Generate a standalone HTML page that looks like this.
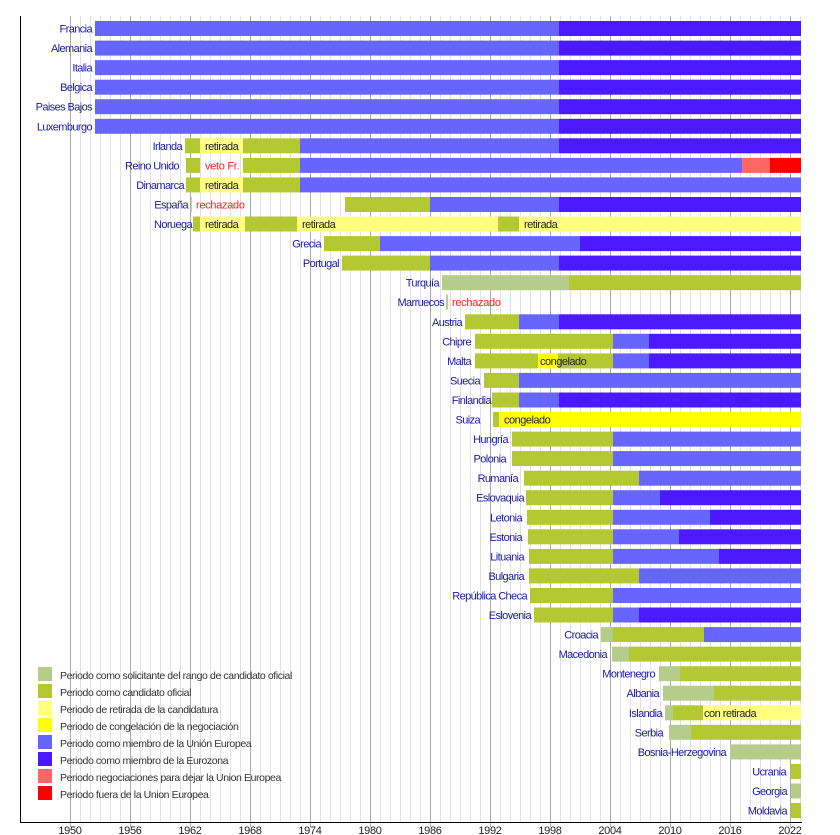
<!DOCTYPE html>
<html><head><meta charset="utf-8"><style>
body{margin:0;background:#fff}
svg{display:block;font-family:"Liberation Sans",sans-serif}
.l{font-size:11px;fill:#1a1aa0;text-anchor:end;letter-spacing:-0.6px}
.t{font-size:11px;fill:#222;letter-spacing:-0.5px}
.r{font-size:11px;fill:#ff2020;letter-spacing:-0.3px}
.g{fill:#b4c832}.lg{fill:#b6cc8a}.y{fill:#ffff80}.yy{fill:#ffff00}.b{fill:#6666ff}.d{fill:#4b19ff}.s{fill:#ff6666}.rr{fill:#ff0000}
.lt{font-size:10.5px;fill:#333;letter-spacing:-0.4px}
.ax{font-size:11px;fill:#222;text-anchor:middle;letter-spacing:-0.3px}
</style></head><body>
<svg width="840" height="835" viewBox="0 0 840 835" xmlns="http://www.w3.org/2000/svg">
<g stroke="#e2e2e2" stroke-width="1">
<line x1="80.5" y1="16" x2="80.5" y2="822"/><line x1="90.5" y1="16" x2="90.5" y2="822"/><line x1="100.5" y1="16" x2="100.5" y2="822"/><line x1="110.5" y1="16" x2="110.5" y2="822"/><line x1="120.5" y1="16" x2="120.5" y2="822"/><line x1="140.5" y1="16" x2="140.5" y2="822"/><line x1="150.5" y1="16" x2="150.5" y2="822"/><line x1="160.5" y1="16" x2="160.5" y2="822"/><line x1="170.5" y1="16" x2="170.5" y2="822"/><line x1="180.5" y1="16" x2="180.5" y2="822"/><line x1="200.5" y1="16" x2="200.5" y2="822"/><line x1="210.5" y1="16" x2="210.5" y2="822"/><line x1="220.5" y1="16" x2="220.5" y2="822"/><line x1="230.5" y1="16" x2="230.5" y2="822"/><line x1="240.5" y1="16" x2="240.5" y2="822"/><line x1="260.5" y1="16" x2="260.5" y2="822"/><line x1="270.5" y1="16" x2="270.5" y2="822"/><line x1="280.5" y1="16" x2="280.5" y2="822"/><line x1="290.5" y1="16" x2="290.5" y2="822"/><line x1="300.5" y1="16" x2="300.5" y2="822"/><line x1="320.5" y1="16" x2="320.5" y2="822"/><line x1="330.5" y1="16" x2="330.5" y2="822"/><line x1="340.5" y1="16" x2="340.5" y2="822"/><line x1="350.5" y1="16" x2="350.5" y2="822"/><line x1="360.5" y1="16" x2="360.5" y2="822"/><line x1="380.5" y1="16" x2="380.5" y2="822"/><line x1="390.5" y1="16" x2="390.5" y2="822"/><line x1="400.5" y1="16" x2="400.5" y2="822"/><line x1="410.5" y1="16" x2="410.5" y2="822"/><line x1="420.5" y1="16" x2="420.5" y2="822"/><line x1="440.5" y1="16" x2="440.5" y2="822"/><line x1="450.5" y1="16" x2="450.5" y2="822"/><line x1="460.5" y1="16" x2="460.5" y2="822"/><line x1="470.5" y1="16" x2="470.5" y2="822"/><line x1="480.5" y1="16" x2="480.5" y2="822"/><line x1="500.5" y1="16" x2="500.5" y2="822"/><line x1="510.5" y1="16" x2="510.5" y2="822"/><line x1="520.5" y1="16" x2="520.5" y2="822"/><line x1="530.5" y1="16" x2="530.5" y2="822"/><line x1="540.5" y1="16" x2="540.5" y2="822"/><line x1="560.5" y1="16" x2="560.5" y2="822"/><line x1="570.5" y1="16" x2="570.5" y2="822"/><line x1="580.5" y1="16" x2="580.5" y2="822"/><line x1="590.5" y1="16" x2="590.5" y2="822"/><line x1="600.5" y1="16" x2="600.5" y2="822"/><line x1="620.5" y1="16" x2="620.5" y2="822"/><line x1="630.5" y1="16" x2="630.5" y2="822"/><line x1="640.5" y1="16" x2="640.5" y2="822"/><line x1="650.5" y1="16" x2="650.5" y2="822"/><line x1="660.5" y1="16" x2="660.5" y2="822"/><line x1="680.5" y1="16" x2="680.5" y2="822"/><line x1="690.5" y1="16" x2="690.5" y2="822"/><line x1="700.5" y1="16" x2="700.5" y2="822"/><line x1="710.5" y1="16" x2="710.5" y2="822"/><line x1="720.5" y1="16" x2="720.5" y2="822"/><line x1="740.5" y1="16" x2="740.5" y2="822"/><line x1="750.5" y1="16" x2="750.5" y2="822"/><line x1="760.5" y1="16" x2="760.5" y2="822"/><line x1="770.5" y1="16" x2="770.5" y2="822"/><line x1="780.5" y1="16" x2="780.5" y2="822"/><line x1="800.5" y1="16" x2="800.5" y2="822"/>
</g>
<g stroke="#aaa" stroke-width="1">
<line x1="70.5" y1="16" x2="70.5" y2="827"/><line x1="130.5" y1="16" x2="130.5" y2="827"/><line x1="190.5" y1="16" x2="190.5" y2="827"/><line x1="250.5" y1="16" x2="250.5" y2="827"/><line x1="310.5" y1="16" x2="310.5" y2="827"/><line x1="370.5" y1="16" x2="370.5" y2="827"/><line x1="430.5" y1="16" x2="430.5" y2="827"/><line x1="490.5" y1="16" x2="490.5" y2="827"/><line x1="550.5" y1="16" x2="550.5" y2="827"/><line x1="610.5" y1="16" x2="610.5" y2="827"/><line x1="670.5" y1="16" x2="670.5" y2="827"/><line x1="730.5" y1="16" x2="730.5" y2="827"/><line x1="790.5" y1="16" x2="790.5" y2="827"/>
</g>
<line x1="20.5" y1="16" x2="20.5" y2="822" stroke="#000"/>
<line x1="20" y1="822.5" x2="802" y2="822.5" stroke="#000"/>

<g transform="translate(0,21)"><rect x="95" width="464" height="15" class="b"/><rect x="559" width="242" height="15" class="d"/><text x="92" y="11.5" class="l">Francia</text></g>
<g transform="translate(0,40.6)"><rect x="95" width="464" height="15" class="b"/><rect x="559" width="242" height="15" class="d"/><text x="92" y="11.5" class="l">Alemania</text></g>
<g transform="translate(0,60.1)"><rect x="95" width="464" height="15" class="b"/><rect x="559" width="242" height="15" class="d"/><text x="92" y="11.5" class="l">Italia</text></g>
<g transform="translate(0,79.7)"><rect x="95" width="464" height="15" class="b"/><rect x="559" width="242" height="15" class="d"/><text x="92" y="11.5" class="l">Belgica</text></g>
<g transform="translate(0,99.2)"><rect x="95" width="464" height="15" class="b"/><rect x="559" width="242" height="15" class="d"/><text x="92" y="11.5" class="l">Paises Bajos</text></g>
<g transform="translate(0,118.8)"><rect x="95" width="464" height="15" class="b"/><rect x="559" width="242" height="15" class="d"/><text x="92" y="11.5" class="l">Luxemburgo</text></g>
<g transform="translate(0,138.3)"><rect x="185" width="15" height="15" class="g"/><rect x="200" width="43" height="15" class="y"/><rect x="243" width="57" height="15" class="g"/><rect x="300" width="259" height="15" class="b"/><rect x="559" width="242" height="15" class="d"/><text x="182" y="11.5" class="l">Irlanda</text><text x="205" y="11.5" class="t">retirada</text></g>
<g transform="translate(0,157.9)"><rect x="186" width="14" height="15" class="g"/><rect x="243" width="57" height="15" class="g"/><rect x="300" width="442" height="15" class="b"/><rect x="742" width="28" height="15" class="s"/><rect x="770" width="31" height="15" class="rr"/><text x="179" y="11.5" class="l">Reino Unido</text><text x="205" y="11.5" class="r">veto Fr.</text></g>
<g transform="translate(0,177.4)"><rect x="186" width="14" height="15" class="g"/><rect x="200" width="43" height="15" class="y"/><rect x="243" width="57" height="15" class="g"/><rect x="300" width="501" height="15" class="b"/><text x="184" y="11.5" class="l">Dinamarca</text><text x="205" y="11.5" class="t">retirada</text></g>
<g transform="translate(0,197)"><rect x="191" width="1" height="15" fill="#ccc"/><rect x="345" width="85" height="15" class="g"/><rect x="430" width="129" height="15" class="b"/><rect x="559" width="242" height="15" class="d"/><text x="188" y="11.5" class="l">España</text><text x="196" y="11.5" class="r">rechazado</text></g>
<g transform="translate(0,216.5)"><rect x="193" width="7" height="15" class="g"/><rect x="200" width="45" height="15" class="y"/><rect x="245" width="52" height="15" class="g"/><rect x="297" width="201" height="15" class="y"/><rect x="498" width="21" height="15" class="g"/><rect x="519" width="282" height="15" class="y"/><text x="192" y="11.5" class="l">Noruega</text><text x="205" y="11.5" class="t">retirada</text><text x="302" y="11.5" class="t">retirada</text><text x="524" y="11.5" class="t">retirada</text></g>
<g transform="translate(0,236.1)"><rect x="324" width="56" height="15" class="g"/><rect x="380" width="200" height="15" class="b"/><rect x="580" width="221" height="15" class="d"/><text x="321" y="11.5" class="l">Grecia</text></g>
<g transform="translate(0,255.6)"><rect x="342" width="88" height="15" class="g"/><rect x="430" width="129" height="15" class="b"/><rect x="559" width="242" height="15" class="d"/><text x="339" y="11.5" class="l">Portugal</text></g>
<g transform="translate(0,275.2)"><rect x="442" width="127" height="15" class="lg"/><rect x="569" width="232" height="15" class="g"/><text x="439" y="11.5" class="l">Turquía</text></g>
<g transform="translate(0,294.7)"><rect x="446" width="2" height="15" class="lg"/><text x="444" y="11.5" class="l">Marruecos</text><text x="452" y="11.5" class="r">rechazado</text></g>
<g transform="translate(0,314.3)"><rect x="465" width="54" height="15" class="g"/><rect x="519" width="40" height="15" class="b"/><rect x="559" width="242" height="15" class="d"/><text x="462" y="11.5" class="l">Austria</text></g>
<g transform="translate(0,333.8)"><rect x="475" width="138" height="15" class="g"/><rect x="613" width="36" height="15" class="b"/><rect x="649" width="152" height="15" class="d"/><text x="471" y="11.5" class="l">Chipre</text></g>
<g transform="translate(0,353.4)"><rect x="475" width="63" height="15" class="g"/><rect x="538" width="20" height="15" class="yy"/><rect x="558" width="55" height="15" class="g"/><rect x="613" width="36" height="15" class="b"/><rect x="649" width="152" height="15" class="d"/><text x="471" y="11.5" class="l">Malta</text><text x="540" y="11.5" class="t">congelado</text></g>
<g transform="translate(0,372.9)"><rect x="484" width="35" height="15" class="g"/><rect x="519" width="282" height="15" class="b"/><text x="480" y="11.5" class="l">Suecia</text></g>
<g transform="translate(0,392.5)"><rect x="492" width="27" height="15" class="g"/><rect x="519" width="40" height="15" class="b"/><rect x="559" width="242" height="15" class="d"/><text x="491" y="11.5" class="l">Finlandia</text></g>
<g transform="translate(0,412)"><rect x="493" width="6" height="15" class="g"/><rect x="499" width="302" height="15" class="yy"/><text x="480" y="11.5" class="l">Suiza</text><text x="504" y="11.5" class="t">congelado</text></g>
<g transform="translate(0,431.6)"><rect x="512" width="101" height="15" class="g"/><rect x="613" width="188" height="15" class="b"/><text x="508" y="11.5" class="l">Hungría</text></g>
<g transform="translate(0,451.1)"><rect x="512" width="101" height="15" class="g"/><rect x="613" width="188" height="15" class="b"/><text x="506" y="11.5" class="l">Polonia</text></g>
<g transform="translate(0,470.7)"><rect x="524" width="115" height="15" class="g"/><rect x="639" width="162" height="15" class="b"/><text x="518" y="11.5" class="l">Rumanía</text></g>
<g transform="translate(0,490.2)"><rect x="526" width="87" height="15" class="g"/><rect x="613" width="47" height="15" class="b"/><rect x="660" width="141" height="15" class="d"/><text x="524" y="11.5" class="l">Eslovaquia</text></g>
<g transform="translate(0,509.8)"><rect x="527" width="86" height="15" class="g"/><rect x="613" width="97" height="15" class="b"/><rect x="710" width="91" height="15" class="d"/><text x="522" y="11.5" class="l">Letonia</text></g>
<g transform="translate(0,529.3)"><rect x="528" width="85" height="15" class="g"/><rect x="613" width="66" height="15" class="b"/><rect x="679" width="122" height="15" class="d"/><text x="522" y="11.5" class="l">Estonia</text></g>
<g transform="translate(0,548.9)"><rect x="529" width="84" height="15" class="g"/><rect x="613" width="106" height="15" class="b"/><rect x="719" width="82" height="15" class="d"/><text x="524" y="11.5" class="l">Lituania</text></g>
<g transform="translate(0,568.4)"><rect x="529" width="110" height="15" class="g"/><rect x="639" width="162" height="15" class="b"/><text x="524" y="11.5" class="l">Bulgaria</text></g>
<g transform="translate(0,588)"><rect x="530" width="83" height="15" class="g"/><rect x="613" width="188" height="15" class="b"/><text x="527" y="11.5" class="l">República Checa</text></g>
<g transform="translate(0,607.5)"><rect x="534" width="79" height="15" class="g"/><rect x="613" width="26" height="15" class="b"/><rect x="639" width="162" height="15" class="d"/><text x="531" y="11.5" class="l">Eslovenia</text></g>
<g transform="translate(0,627.1)"><rect x="601" width="12" height="15" class="lg"/><rect x="613" width="91" height="15" class="g"/><rect x="704" width="97" height="15" class="b"/><text x="598" y="11.5" class="l">Croacia</text></g>
<g transform="translate(0,646.6)"><rect x="612" width="17" height="15" class="lg"/><rect x="629" width="172" height="15" class="g"/><text x="607" y="11.5" class="l">Macedonia</text></g>
<g transform="translate(0,666.2)"><rect x="659" width="21" height="15" class="lg"/><rect x="680" width="121" height="15" class="g"/><text x="655" y="11.5" class="l">Montenegro</text></g>
<g transform="translate(0,685.7)"><rect x="663" width="51" height="15" class="lg"/><rect x="714" width="87" height="15" class="g"/><text x="659" y="11.5" class="l">Albania</text></g>
<g transform="translate(0,705.3)"><rect x="665" width="8" height="15" class="lg"/><rect x="673" width="30" height="15" class="g"/><rect x="703" width="98" height="15" class="y"/><text x="662" y="11.5" class="l">Islandia</text><text x="704" y="11.5" class="t">con retirada</text></g>
<g transform="translate(0,724.8)"><rect x="669" width="22" height="15" class="lg"/><rect x="691" width="110" height="15" class="g"/><text x="663" y="11.5" class="l">Serbia</text></g>
<g transform="translate(0,744.4)"><rect x="730" width="71" height="15" class="lg"/><text x="726" y="11.5" class="l">Bosnia-Herzegovina</text></g>
<g transform="translate(0,763.9)"><rect x="791" width="10" height="15" class="g"/><text x="786" y="11.5" class="l">Ucrania</text></g>
<g transform="translate(0,783.5)"><rect x="791" width="10" height="15" class="lg"/><text x="787" y="11.5" class="l">Georgia</text></g>
<g transform="translate(0,803)"><rect x="791" width="10" height="15" class="g"/><text x="787" y="11.5" class="l">Moldavia</text></g>

<g>
<rect x="38" y="667" width="14" height="14" class="lg"/><text x="60" y="679" class="lt">Periodo como solicitante del rango de candidato oficial</text>
<rect x="38" y="684" width="14" height="14" class="g"/><text x="60" y="696" class="lt">Periodo como candidato oficial</text>
<rect x="38" y="701" width="14" height="14" class="y"/><text x="60" y="713" class="lt">Periodo de retirada de la candidatura</text>
<rect x="38" y="718" width="14" height="14" class="yy"/><text x="60" y="730" class="lt">Periodo de congelación de la negociación</text>
<rect x="38" y="735" width="14" height="14" class="b"/><text x="60" y="747" class="lt">Periodo como miembro de la Unión Europea</text>
<rect x="38" y="752" width="14" height="14" class="d"/><text x="60" y="764" class="lt">Periodo como miembro de la Eurozona</text>
<rect x="38" y="769" width="14" height="14" class="s"/><text x="60" y="781" class="lt">Periodo negociaciones para dejar la Union Europea</text>
<rect x="38" y="786" width="14" height="14" class="rr"/><text x="60" y="798" class="lt">Periodo fuera de la Union Europea</text>
</g>

<g>
<text x="70" y="834" class="ax">1950</text><text x="130" y="834" class="ax">1956</text><text x="190" y="834" class="ax">1962</text><text x="250" y="834" class="ax">1968</text><text x="310" y="834" class="ax">1974</text><text x="370" y="834" class="ax">1980</text><text x="430" y="834" class="ax">1986</text><text x="490" y="834" class="ax">1992</text><text x="550" y="834" class="ax">1998</text><text x="610" y="834" class="ax">2004</text><text x="670" y="834" class="ax">2010</text><text x="730" y="834" class="ax">2016</text><text x="790" y="834" class="ax">2022</text>
</g>
</svg>
</body></html>
